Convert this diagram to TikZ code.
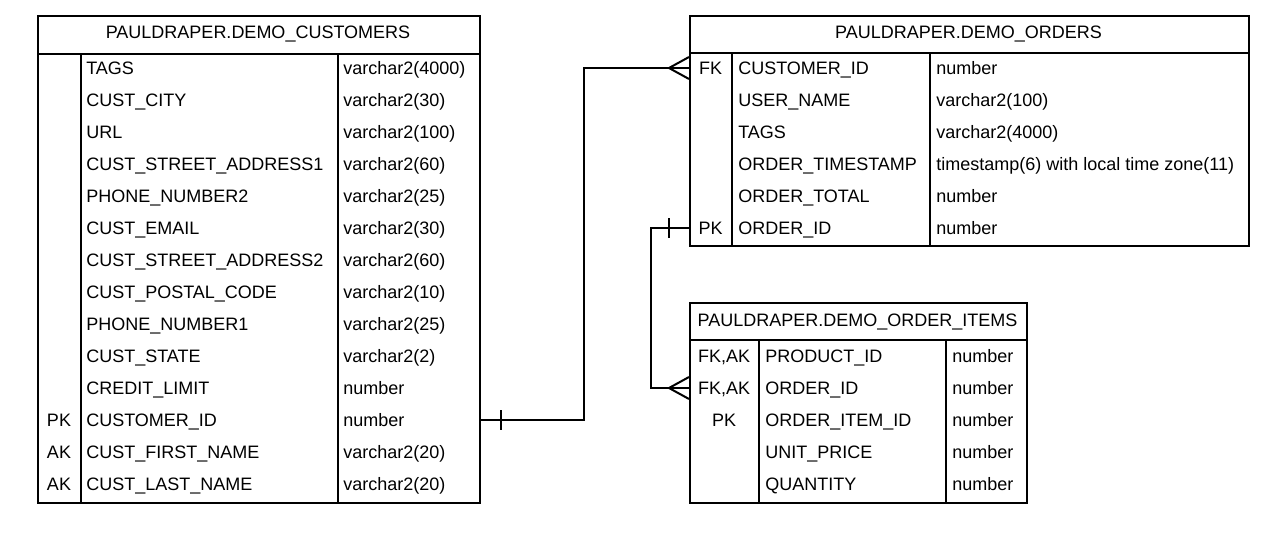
\documentclass[tikz,border=0pt]{standalone}
\usepackage{fontspec}
\setmainfont{Liberation Sans}
\usetikzlibrary{arrows.meta, positioning}

\begin{document}
\begin{tikzpicture}[x=0.75pt, y=-0.75pt,
tbl/.style={rectangle, draw=black, line width=1.5pt, anchor=north west, inner sep=0pt},
head/.style={font=\fontsize{13.5}{16}\selectfont, inner sep=0pt, text height=9.7pt, text depth=0pt},
keycell/.style={font=\fontsize{13.5}{16}\selectfont, inner sep=0pt, text height=9.7pt, text depth=0pt},
cell/.style={font=\fontsize{13.5}{16}\selectfont, inner sep=0pt, text height=9.7pt, text depth=0pt, anchor=west},
rule/.style={line width=1.5pt},
link/.style={line width=1.5pt}
]
	\useasboundingbox (0,0) rectangle (1274,532);

	% customers
	\node[tbl, minimum width=331.5pt, minimum height=365.25pt] (cust) at (37,15) {};
	\node[head] (cust-head) at (258,32) {PAULDRAPER.DEMO\_CUSTOMERS};
	\draw[rule] (cust.west |- 0,54) -- (cust.east |- 0,54);
	\draw[rule] (81,54) -- (81,502);
	\draw[rule] (338,54) -- (338,502);
	\foreach \k/\n/\t [count=\i] in {{}/TAGS/varchar2(4000), {}/CUST\_CITY/varchar2(30), {}/URL/varchar2(100), {}/CUST\_STREET\_ADDRESS1/varchar2(60), {}/PHONE\_NUMBER2/varchar2(25), {}/CUST\_EMAIL/varchar2(30), {}/CUST\_STREET\_ADDRESS2/varchar2(60), {}/CUST\_POSTAL\_CODE/varchar2(10), {}/PHONE\_NUMBER1/varchar2(25), {}/CUST\_STATE/varchar2(2), {}/CREDIT\_LIMIT/number, PK/CUSTOMER\_ID/number, AK/CUST\_FIRST\_NAME/varchar2(20), AK/CUST\_LAST\_NAME/varchar2(20)} {
		\node[keycell] (cust-key-\i) at (59,36+32*\i) {\k};
		\node[cell] (cust-name-\i) at (86,36+32*\i) {\n};
		\node[cell] (cust-type-\i) at (343,36+32*\i) {\t};
	}

	% orders
	\node[tbl, minimum width=419.25pt, minimum height=172.5pt] (ord) at (689,15) {};
	\node[head] (ord-head) at (968.5,32) {PAULDRAPER.DEMO\_ORDERS};
	\draw[rule] (ord.west |- 0,53) -- (ord.east |- 0,53);
	\draw[rule] (732,53) -- (732,245);
	\draw[rule] (930,53) -- (930,245);
	\foreach \k/\n/\t [count=\i] in {FK/CUSTOMER\_ID/number, {}/USER\_NAME/varchar2(100), {}/TAGS/varchar2(4000), {}/ORDER\_TIMESTAMP/timestamp(6) with local time zone(11), {}/ORDER\_TOTAL/number, PK/ORDER\_ID/number} {
		\node[keycell] (ord-key-\i) at (710.5,36+32*\i) {\k};
		\node[cell] (ord-name-\i) at (738,36+32*\i) {\n};
		\node[cell] (ord-type-\i) at (936,36+32*\i) {\t};
	}

	% order items
	\node[tbl, minimum width=252.75pt, minimum height=150pt] (item) at (689,302) {};
	\node[head] (item-head) at (857.5,320) {PAULDRAPER.DEMO\_ORDER\_ITEMS};
	\draw[rule] (item.west |- 0,340) -- (item.east |- 0,340);
	\draw[rule] (759,340) -- (759,502);
	\draw[rule] (946,340) -- (946,502);
	\foreach \k/\n/\t [count=\i] in {{FK,AK}/PRODUCT\_ID/number, {FK,AK}/ORDER\_ID/number, PK/ORDER\_ITEM\_ID/number, {}/UNIT\_PRICE/number, {}/QUANTITY/number} {
		\node[keycell] (item-key-\i) at (724,324+32*\i) {\k};
		\node[cell] (item-name-\i) at (765,324+32*\i) {\n};
		\node[cell] (item-type-\i) at (952,324+32*\i) {\t};
	}

	% relations
	\coordinate (bend1) at (584,0);
	\coordinate (bend2) at (651,0);
	\draw[link] (cust.east |- cust-type-12) -| (bend1 |- ord-key-1) -- (ord.west |- ord-key-1);
	\draw[link] (cust.east |- cust-type-12) ++(20,-10) -- ++(0,20);
	\draw[link] (ord.west |- ord-key-1) ++(-20,0) -- ++(20,-11) ++(-20,11) -- ++(20,11);
	\draw[link] (ord.west |- ord-key-6) -| (bend2 |- item-key-2) -- (item.west |- item-key-2);
	\draw[link] (ord.west |- ord-key-6) ++(-20,-10) -- ++(0,20);
	\draw[link] (item.west |- item-key-2) ++(-20,0) -- ++(20,-11) ++(-20,11) -- ++(20,11);
\end{tikzpicture}
\end{document}
